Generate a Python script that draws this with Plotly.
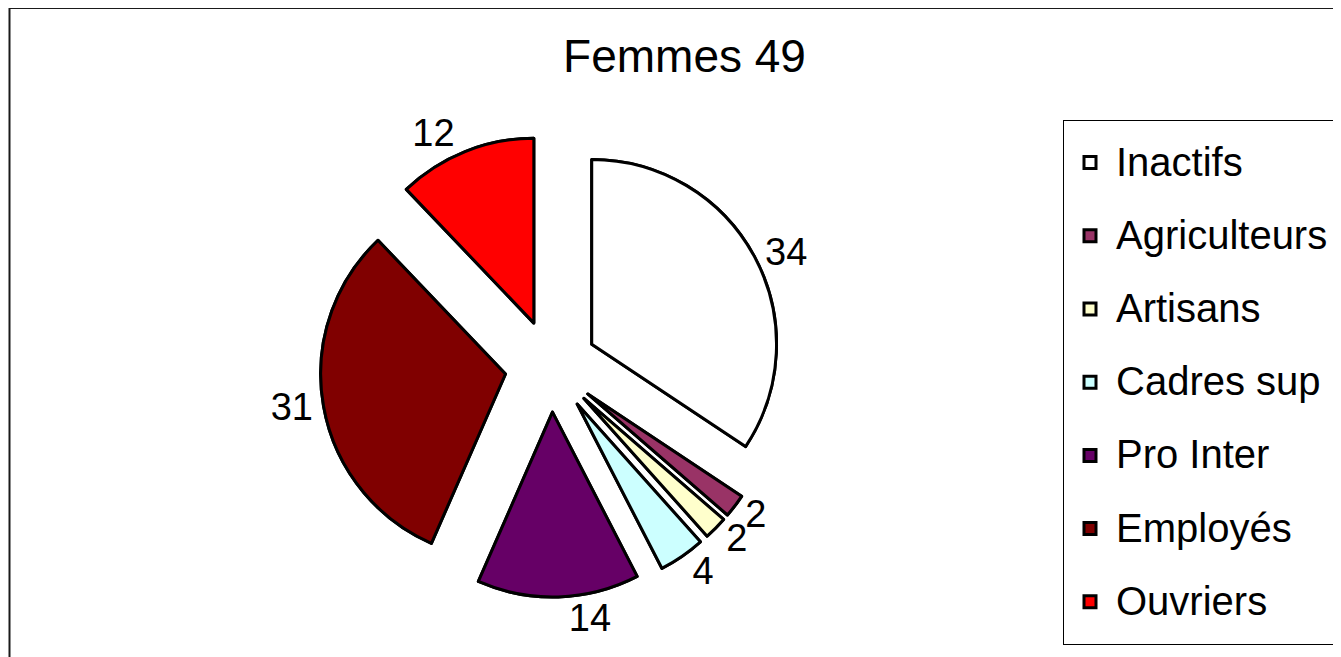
import plotly.graph_objects as go

categories = ["Inactifs", "Agriculteurs", "Artisans", "Cadres sup", "Pro Inter", "Employés", "Ouvriers"]
values = [34, 2, 2, 4, 14, 31, 12]
colors = ["#FFFFFF", "#993366", "#FFFFCC", "#CCFFFF", "#660066", "#800000", "#FF0000"]
title_text = "Femmes 49"

# which trace draws each slice's value label (two identical pies so that the
# small neighbouring labels are laid out without leader lines)
label_layer = [0, 1, 0, 1, 0, 0, 0]

W, H = 1341, 657
OFF = 8  # page body margin of the browser
FONT = "Liberation Sans, Arial, sans-serif"


def px_x(x):
    return (x - OFF) / W


def px_y(y):
    return 1 - (y - OFF) / H


legend_labels = [
    '<span style="font-size:40px;baseline-shift:8px">%s</span>' % c for c in categories
]

domain = dict(x=[px_x(320), px_x(782)], y=[px_y(597), px_y(135)])

fig = go.Figure()
for layer in (0, 1):
    fig.add_trace(
        go.Pie(
            labels=legend_labels,
            values=values,
            sort=False,
            direction="clockwise",
            rotation=0,
            pull=0.25,
            marker=dict(colors=colors, line=dict(color="black", width=3)),
            textinfo="value",
            textposition=["outside" if l == layer else "none" for l in label_layer],
            textfont=dict(family=FONT, size=38, color="black"),
            domain=domain,
            hoverinfo="skip",
            showlegend=(layer == 0),
        )
    )

fig.update_layout(
    width=W,
    height=H,
    margin=dict(l=0, r=0, t=0, b=0, autoexpand=False),
    paper_bgcolor="white",
    plot_bgcolor="white",
    title=dict(
        text=title_text,
        x=px_x(684.5),
        y=px_y(56),
        xanchor="center",
        yanchor="middle",
        xref="paper",
        yref="container",
        font=dict(family=FONT, size=46, color="black"),
    ),
    showlegend=True,
    legend=dict(
        x=px_x(1063),
        y=px_y(120),
        xanchor="left",
        yanchor="top",
        bordercolor="black",
        borderwidth=1,
        bgcolor="white",
        font=dict(family=FONT, size=54, color="black"),
        itemwidth=42,
        traceorder="normal",
    ),
    shapes=[
        dict(
            type="rect",
            xref="paper",
            yref="paper",
            x0=px_x(9.5),
            x1=1.02,
            y0=-0.05,
            y1=px_y(8),
            line=dict(color="#1a1a1a", width=2),
            fillcolor="rgba(0,0,0,0)",
            layer="below",
        )
    ],
)

fig.write_html("out.html")
